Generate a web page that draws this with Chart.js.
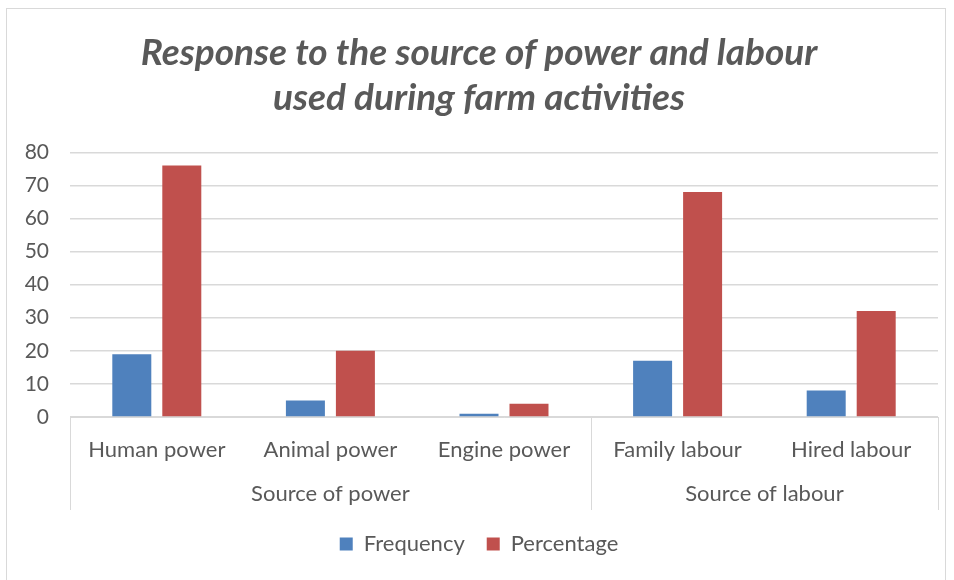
<!DOCTYPE html>
<html>
<head>
<meta charset="utf-8">
<script src="https://cdn.jsdelivr.net/npm/chart.js@4"></script>
<style>
  html, body { margin: 0; padding: 0; background: #fff; }
  #wrap { position: relative; width: 954px; height: 580px; }
  #frame { position: absolute; left: 6px; top: 8px; width: 940px; height: 580px; border: 1px solid #d9d9d9; box-sizing: border-box; }
  canvas { position: absolute; left: 0; top: 0; }
</style>
</head>
<body>
<div id="wrap">
  <div id="frame"></div>
  <canvas id="chart" width="954" height="580"></canvas>
</div>
<script>
(function() {
  'use strict';
  // カテゴリとグループ
  const categories = ['Human power', 'Animal power', 'Engine power', 'Family labour', 'Hired labour'];
  const groupNames = ['Source of power', 'Source of labour'];
  const groupSizes = [3, 2];
  // 系列
  const frequency = [19, 5, 1, 17, 8];
  const percentage = [76, 20, 4, 68, 32];
  const yTicks = [0, 10, 20, 30, 40, 50, 60, 70, 80];

  const fontFamily = 'Lato, "Open Sans", sans-serif';
  const textColor = '#595959';
  const lineColor = '#d9d9d9';

  // グループラベルと区切り線を描く
  const groupPlugin = {
    id: 'groupLabels',
    afterDraw(chart) {
      const ctx = chart.ctx;
      const x = chart.scales.x;
      const area = chart.chartArea;
      const half = (x.getPixelForValue(1) - x.getPixelForValue(0)) / 2;
      const bottom = area.bottom + 93;
      ctx.save();
      ctx.strokeStyle = lineColor;
      ctx.lineWidth = 1;
      let start = 0;
      const edges = [x.getPixelForValue(0) - half];
      groupSizes.forEach(function(size) {
        edges.push(x.getPixelForValue(start + size - 1) + half);
        start += size;
      });
      edges.forEach(function(px) {
        ctx.beginPath();
        ctx.moveTo(Math.round(px) + 0.5, area.bottom);
        ctx.lineTo(Math.round(px) + 0.5, bottom);
        ctx.stroke();
      });
      ctx.fillStyle = textColor;
      ctx.font = '22px ' + fontFamily;
      ctx.textAlign = 'center';
      ctx.textBaseline = 'middle';
      groupNames.forEach(function(name, i) {
        ctx.fillText(name, (edges[i] + edges[i + 1]) / 2, area.bottom + 77);
      });
      ctx.restore();
    }
  };

  new Chart(document.getElementById('chart').getContext('2d'), {
    type: 'bar',
    data: {
      labels: categories,
      datasets: [{
        label: 'Frequency',
        data: frequency,
        backgroundColor: '#4f81bd',
      }, {
        label: 'Percentage',
        data: percentage,
        backgroundColor: '#c0504d',
      }],
    },
    options: {
      responsive: false,
      animation: false,
      categoryPercentage: 0.576,
      barPercentage: 0.78,
      layout: { padding: { left: 20, right: 16, top: 8, bottom: 15 } },
      plugins: {
        title: {
          display: true,
          text: ['Response to the source of power and labour', 'used during farm activities'],
          color: textColor,
          font: { family: fontFamily, size: 37, weight: 'bold', style: 'italic', lineHeight: 1.22 },
          padding: { top: 22, bottom: 32 },
        },
        legend: {
          position: 'bottom',
          labels: {
            color: textColor,
            font: { family: fontFamily, size: 22 },
            boxWidth: 13,
            boxHeight: 13,
            padding: 22,
          },
        },
        tooltip: { enabled: false },
      },
      scales: {
        x: {
          grid: { display: false, drawTicks: false },
          border: { color: lineColor, width: 1 },
          ticks: {
            color: textColor,
            font: { family: fontFamily, size: 22 },
            padding: 20,
            maxRotation: 0,
          },
          afterFit(scale) { scale.height = 94; },
        },
        y: {
          min: 0,
          max: 80,
          afterBuildTicks(scale) { scale.ticks = yTicks.map(function(v) { return { value: v }; }); },
          grid: { color: lineColor, lineWidth: 1.5, drawTicks: false },
          border: { display: false },
          ticks: {
            color: textColor,
            font: { family: fontFamily, size: 21 },
            padding: 21,
          },
          afterFit(scale) { scale.width = 50; },
        },
      },
    },
    plugins: [groupPlugin],
  });
})();
</script>
</body>
</html>
